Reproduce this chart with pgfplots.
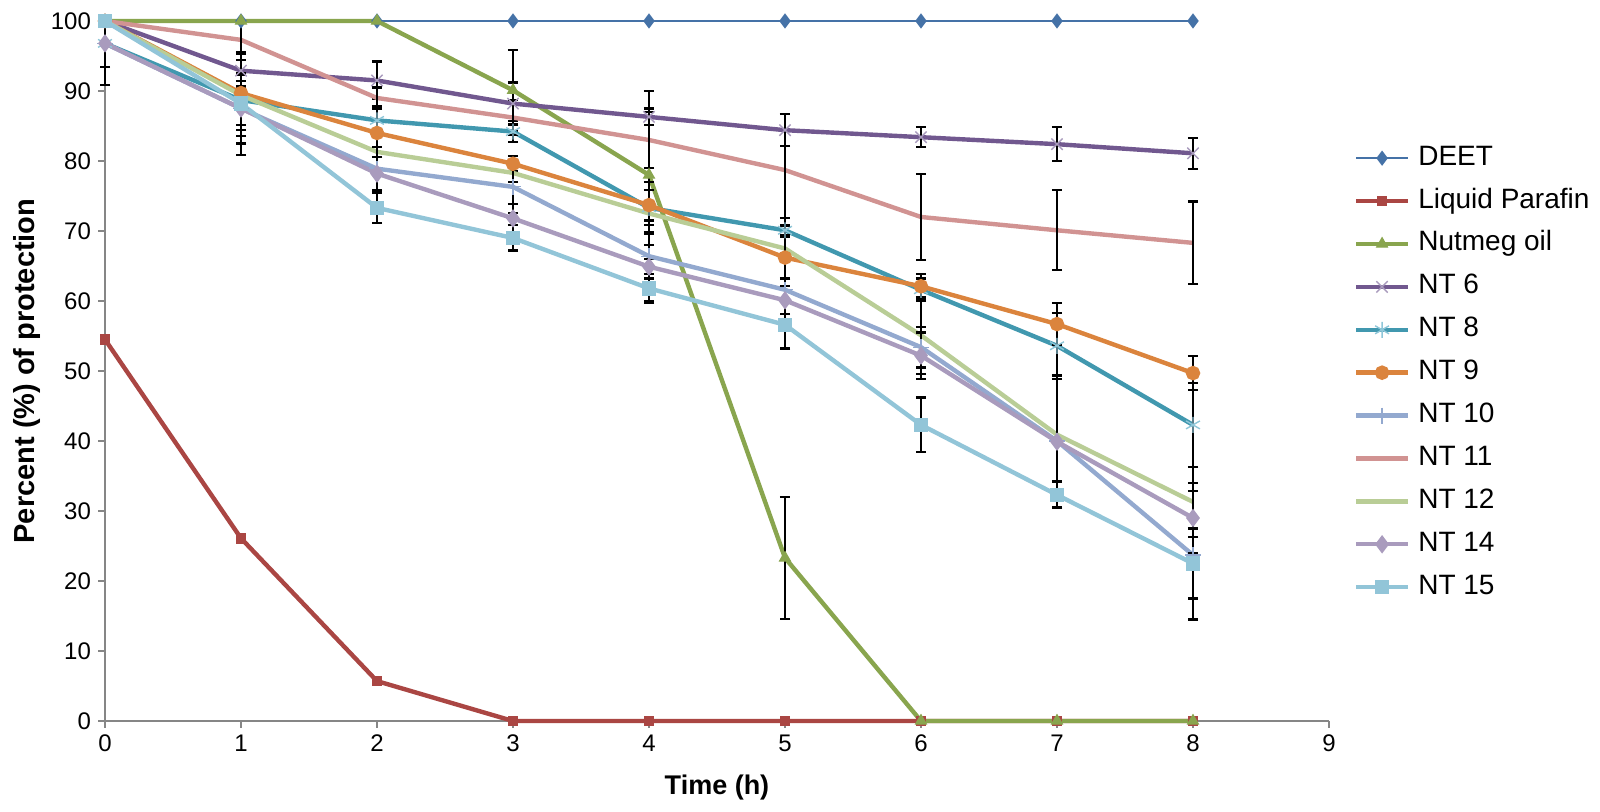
\documentclass[border=0pt]{standalone}
\usepackage{fontspec}
\setmainfont{Liberation Sans}
\usepackage{pgfplots}
\pgfplotsset{compat=1.18}
\definecolor{axisgray}{HTML}{868686}
\definecolor{cDEET}{HTML}{4572A7}
\definecolor{cLP}{HTML}{AA4643}
\definecolor{cNut}{HTML}{89A54E}
\definecolor{cNTsix}{HTML}{71588F}
\definecolor{cNTsixm}{HTML}{A99BBD}
\definecolor{cNTeight}{HTML}{4198AF}
\definecolor{cNTeightm}{HTML}{8EC6D8}
\definecolor{cNTnine}{HTML}{DB843D}
\definecolor{cNTten}{HTML}{93A9CF}
\definecolor{cNTeleven}{HTML}{D19392}
\definecolor{cNTtwelve}{HTML}{B9CD96}
\definecolor{cNTfourteen}{HTML}{A99BBD}
\definecolor{cNTfifteen}{HTML}{92C5D8}
\pgfplotsset{
  eb/.style={error bars/y dir=both, error bars/y explicit,
    error bars/error bar style={black,line width=1.1pt,solid},
    error bars/error mark options={black,rotate=90,mark size=2.6pt,line width=1.1pt,solid}},
}
\begin{document}
\begin{tikzpicture}
\begin{axis}[
  at={(0,0)}, anchor=south west,
  width=612pt, height=350pt, scale only axis,
  xmin=0, xmax=9, ymin=0, ymax=100,
  xtick={0,1,...,9}, ytick={0,10,...,100},
  axis lines*=left,
  axis line style={draw=axisgray, line width=0.8pt},
  tick align=outside, major tick length=3.5pt,
  tick style={draw=axisgray, line width=0.8pt},
  ticklabel style={font=\fontsize{12}{14}\selectfont},
  /pgf/number format/assume math mode=true,
  xlabel={\textbf{Time (h)}},
  ylabel={\textbf{Percent (\%) of protection}},
  every axis x label/.style={at={(axis description cs:0.5,0)}, yshift=-33.5pt, anchor=center, font=\fontsize{13.5}{15}\selectfont},
  every axis y label/.style={at={(axis description cs:-0.0637,0.5)}, rotate=90, anchor=center, font=\fontsize{14.5}{16}\selectfont},
  clip=false,
  legend cell align=left,
  legend image code/.code={\draw[mark repeat=2,mark phase=2,#1] plot coordinates {(0pt,0pt) (13pt,0pt) (26pt,0pt)};},
  legend style={draw=none, fill=none, at={(1.02,0.826)}, anchor=north west,
    font=\fontsize{14}{16}\selectfont, inner sep=0pt, row sep=6.45pt,
    nodes={inner sep=1pt, text height=10pt, text depth=3pt},
    /tikz/every odd column/.append style={column sep=3pt}},
]
% DEET
\addplot[color=cDEET, line width=1pt, mark=diamond*, mark size=3pt, mark options={fill=cDEET, draw=cDEET}]
  coordinates {(0,100) (1,100) (2,100) (3,100) (4,100) (5,100) (6,100) (7,100) (8,100)};
\addlegendentry{DEET}
% Liquid Parafin
\addplot[color=cLP, line width=2.2pt, mark=square*, mark size=2.4pt, mark options={fill=cLP, draw=cLP, line width=0.5pt}]
  coordinates {(0,54.5) (1,26.1) (2,5.7) (3,0) (4,0) (5,0) (6,0) (7,0) (8,0)};
\addlegendentry{Liquid Parafin}
% Nutmeg oil
\addplot[color=cNut, line width=2.2pt, mark=triangle*, mark size=3.2pt, mark options={fill=cNut, draw=cNut, line width=0.5pt}, eb]
  coordinates {(0,100) (1,100) (2,100) (3,90.1) +- (0,5.8) (4,78) +- (0,12) (5,23.3) +- (0,8.7) (6,0) (7,0) (8,0)};
\addlegendentry{Nutmeg oil}
% NT 6
\addplot[color=cNTsix, line width=2.2pt, mark=x, mark size=4pt, mark options={draw=cNTsixm, line width=0.7pt}, eb]
  coordinates {(0,100) (1,92.9) +- (0,2.5) (2,91.5) +- (0,2.7) (3,88.2) +- (0,3) (4,86.3) +- (0,1.2) (5,84.4) +- (0,2.3) (6,83.4) +- (0,1.4) (7,82.4) +- (0,2.4) (8,81.1) +- (0,2.2)};
\addlegendentry{NT 6}
% NT 8
\addplot[color=cNTeight, line width=2.2pt, mark=asterisk, mark size=4pt, mark options={draw=cNTeightm, line width=0.7pt}, eb]
  coordinates {(0,96.8) += (0,3.2) -= (0,5.9) (1,88.7) +- (0,3.6) (2,85.8) +- (0,2) (3,84.2) +- (0,1.5) (4,73.3) +- (0,2.5) (5,70.1) +- (0,0.7) (6,61.6) +- (0,1.6) (7,53.6) +- (0,4.7) (8,42.3) +- (0,6)};
\addlegendentry{NT 8}
% NT 9
\addplot[color=cNTnine, line width=2.2pt, mark=*, mark size=2.5pt, mark options={fill=cNTnine, draw=cNTnine}, eb]
  coordinates {(0,100) (1,89.7) +- (0,1) (2,84) +- (0,3.4) (3,79.6) +- (0,1.1) (4,73.7) +- (0,2.2) (5,66.2) +- (0,3) (6,62.1) +- (0,1.8) (7,56.7) +- (0,3) (8,49.7) +- (0,2.4)};
\addlegendentry{NT 9}
% NT 10
\addplot[color=cNTten, line width=2.2pt, mark=+, mark size=4pt, mark options={draw=cNTten, line width=0.6pt}, eb]
  coordinates {(0,96.8) += (0,3.2) -= (0,3.4) (1,87.5) +- (0,3.9) (2,78.9) +- (0,3.1) (3,76.3) +- (0,3.7) (4,66.4) +- (0,3.2) (5,61.6) +- (0,1.6) (6,53.4) +- (0,2.9) (7,40) +- (0,9.4) (8,23.7) +- (0,9.2)};
\addlegendentry{NT 10}
% NT 11
\addplot[color=cNTeleven, line width=2.2pt, no markers, eb]
  coordinates {(0,100) (1,97.3) += (0,2.7) -= (0,2) (2,89) +- (0,1.5) (3,86.2) +- (0,2.5) (4,83) +- (0,4) (5,78.7) +- (0,8) (6,72) +- (0,6.1) (7,70.1) +- (0,5.7) (8,68.3) +- (0,5.9)};
\addlegendentry{NT 11}
% NT 12
\addplot[color=cNTtwelve, line width=2.2pt, no markers, eb]
  coordinates {(0,100) (1,89.4) +- (0,5) (2,81.3) +- (0,0.7) (3,78.3) +- (0,1.3) (4,72.5) +- (0,4.5) (5,67.5) +- (0,4.3) (6,55.1) +- (0,5.5) (7,40.9) +- (0,8) (8,31.3) +- (0,5)};
\addlegendentry{NT 12}
% NT 14
\addplot[color=cNTfourteen, line width=2.2pt, mark=diamond*, mark size=2.8pt, mark options={fill=cNTfourteen, draw=cNTfourteen}, eb]
  coordinates {(0,96.8) (1,87.5) +- (0,5) (2,78.2) +- (0,2.4) (3,71.8) +- (0,2.1) (4,64.9) +- (0,4.9) (5,60.1) +- (0,2) (6,52.2) +- (0,3.3) (7,39.9) +- (0,9.4) (8,29) +- (0,5)};
\addlegendentry{NT 14}
% NT 15
\addplot[color=cNTfifteen, line width=2.2pt, mark=square*, mark size=2.5pt, mark options={fill=cNTfifteen, draw=cNTfifteen}, eb]
  coordinates {(0,100) (1,88.2) +- (0,7.3) (2,73.3) +- (0,2.2) (3,69) +- (0,1.8) (4,61.8) +- (0,2.1) (5,56.6) +- (0,3.4) (6,42.3) +- (0,3.9) (7,32.3) +- (0,1.9) (8,22.5) +- (0,5)};
\addlegendentry{NT 15}
\end{axis}
\pgfresetboundingbox
\useasboundingbox (-52.5pt,-45.5pt) rectangle (747.5pt,360.5pt);
\end{tikzpicture}
\end{document}
